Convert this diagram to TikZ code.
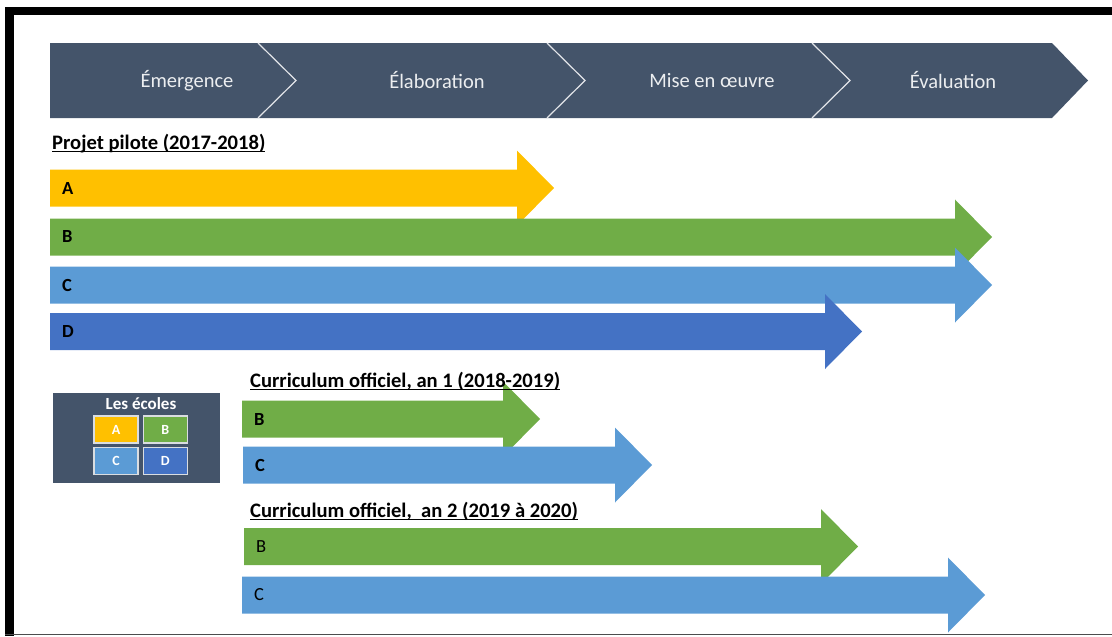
\documentclass[tikz,border=0pt]{standalone}
\usepackage{fontspec}
\setmainfont{Carlito}
\usepackage{tikz}
\usetikzlibrary{positioning}

\definecolor{slate}{HTML}{44546A}
\definecolor{ecoleA}{HTML}{FFC000}
\definecolor{ecoleB}{HTML}{70AD47}
\definecolor{ecoleC}{HTML}{5B9BD5}
\definecolor{ecoleD}{HTML}{4472C4}

\newsavebox\hdbox
\newcommand\hdline[1]{\sbox\hdbox{#1}\usebox\hdbox\llap{\rule[-2.8pt]{\wd\hdbox}{1.3pt}}}

\tikzset{
  phase/.style={text=white!90!slate, font=\fontsize{20.5}{24}\selectfont},
  heading/.style={anchor=base west, inner sep=0pt, font=\bfseries\fontsize{20.6}{24}\selectfont},
  barlabel/.style={anchor=west, inner sep=0pt, font=\fontsize{18.5}{22}\selectfont},
  cell/.style={draw=white!80!slate, line width=1.3pt, minimum width=44pt, minimum height=27pt,
    inner sep=0pt, text=white, font=\bfseries\fontsize{14}{16}\selectfont}
}

\begin{document}
\begin{tikzpicture}[x=1pt,y=-1pt]
            \useasboundingbox (0,0) rectangle (1112,637);

            % frame
            \fill[black] (5,7) rectangle (1112,15);
            \fill[black] (5,7) rectangle (14,636);
            \draw[gray!60!black,line width=1.5pt] (5,634.5) -- (1112,634.5);

            % phases
            \fill[slate] (50,43) -- (1052,43) -- (1088,80.5) -- (1052,118) -- (50,118) -- cycle;
            \foreach \x in {258,547,812} {
                \draw[white!85!slate,line width=1.2pt] (\x,43) -- (\x+38,80.5) -- (\x,118);
            }
            \foreach \i/\x/\txt in {1/187/Émergence,2/437/Élaboration,3/712/Mise en œuvre,4/953/Évaluation} {
                \node[phase] (phase\i) at (\x,80.5) {\txt};
            }

            % arrows
            \foreach \name/\col/\xa/\xb/\yc/\lab in {
                pilA/ecoleA/50/554/188/{\bfseries A},
                pilB/ecoleB/50/992/237/{\bfseries B},
                pilC/ecoleC/50/992/285/{\bfseries C},
                pilD/ecoleD/50/862/331.5/{\bfseries D},
                unB/ecoleB/242/540/419/{\bfseries B},
                unC/ecoleC/243/652/465/{\bfseries C},
                deuxB/ecoleB/244/858/546.5/B,
                deuxC/ecoleC/242/985/595/C} {
                \fill[\col] (\xa,\yc-18.5) -- (\xb-37,\yc-18.5) -- (\xb-37,\yc-37.5) -- (\xb,\yc)
                    -- (\xb-37,\yc+37.5) -- (\xb-37,\yc+18.5) -- (\xa,\yc+18.5) -- cycle;
                \node[barlabel] (\name) at (\xa+12,\yc) {\lab};
            }

            % headings
            \node[heading] (pilote) at (52,149) {\hdline{Projet pilote (2017-2018)}};
            \node[heading] (an1) at (250,387) {\hdline{Curriculum officiel, an 1 (2018-2019)}};
            \node[heading] (an2) at (250,517) {\hdline{Curriculum officiel,\ \ an 2 (2019 à 2020)}};

            % legend
            \fill[slate] (53,393) rectangle (220,483);
            \node[text=white,font=\bfseries\fontsize{17}{19}\selectfont] (ecoles) at (141,404) {Les écoles};
            \node[cell,fill=ecoleA] (cellA) at (116,429.5) {A};
            \node[cell,fill=ecoleB,right=4pt of cellA] (cellB) {B};
            \node[cell,fill=ecoleC,below=3pt of cellA] (cellC) {C};
            \node[cell,fill=ecoleD,right=4pt of cellC] (cellD) {D};
        \end{tikzpicture}
\end{document}
